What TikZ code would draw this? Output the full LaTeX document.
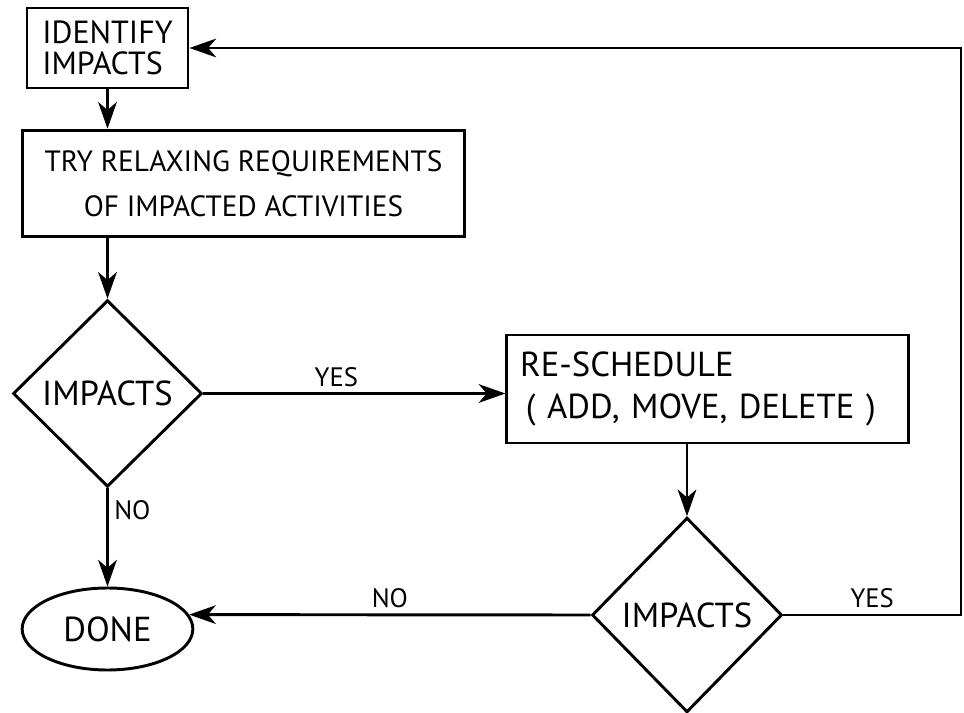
\documentclass[tikz,border=0pt]{standalone}
\usepackage{fontspec}
\setmainfont{PT Sans}
\usetikzlibrary{shapes.geometric,arrows.meta}

\tikzset{every picture/.style={line width=2.2pt}}
\tikzset{
	box/.style={draw, rectangle, inner sep=0pt},
	decision/.style={draw, diamond, inner sep=0pt, font=\fontsize{26}{30}\selectfont},
	terminal/.style={draw, ellipse, inner sep=0pt, font=\fontsize{26}{30}\selectfont},
	flow/.style={-{Stealth[length=20pt,width=14pt,inset=6pt]}},
	answer/.style={font=\fontsize{20}{24}\selectfont, inner sep=4pt}}

\begin{document}
\begin{tikzpicture}[x=0.75pt,y=0.75pt,yscale=-1,xscale=1]
	\useasboundingbox (0,0) rectangle (964,713);

	%Shape: Rectangle [identify]
	\node [box, align=left, minimum width=120.75pt, minimum height=60pt, font=\fontsize{24}{23}\selectfont] (identify) at (107.5,48) {IDENTIFY\\IMPACTS};
	%Shape: Rectangle [relax]
	\node [box, align=center, minimum width=332pt, minimum height=80pt, font=\fontsize{22}{34}\selectfont] (relax) at (243.5,183.5) {TRY RELAXING REQUIREMENTS\\OF IMPACTED ACTIVITIES};
	%Shape: Diamond [check]
	\node [decision, minimum width=141.75pt, minimum height=140pt] (check) at (107.5,393.5) {IMPACTS};
	%Shape: Rectangle [reschedule]
	\node [box, align=left, text width=281pt, inner xsep=10pt, minimum height=81pt, font=\fontsize{26}{32}\selectfont] (reschedule) at (707.5,389) {RE-SCHEDULE\\\,( ADD, MOVE, DELETE )};
	%Shape: Diamond [recheck]
	\node [decision, minimum width=142.5pt, minimum height=146pt] (recheck) at (687,615) {IMPACTS};
	%Shape: Ellipse [done]
	\node [terminal, minimum width=128pt, minimum height=61.5pt] (done) at (107.5,629) {DONE};

	\coordinate (looptop) at (961,48);

	%Straight Lines
	\draw [flow] (identify.south) -- (identify.south |- relax.north);
	\draw [flow] (relax.south -| check.north) -- (check.north);
	\draw [flow] (check.east) -- node [answer, above, pos=0.44] {YES} (check.east -| reschedule.west);
	\draw [flow] (check.south) -- node [answer, right, pos=0.22] {NO} (done.north);
	\draw [flow] (reschedule.south -| recheck.north) -- (recheck.north);
	\draw [flow] (recheck.west) -- node [answer, above] {NO} (done.10);
	\draw [flow] (recheck.east) -- node [answer, above] {YES} (recheck.east -| looptop) -- (looptop) -- (identify.east);

\end{tikzpicture}
\end{document}
